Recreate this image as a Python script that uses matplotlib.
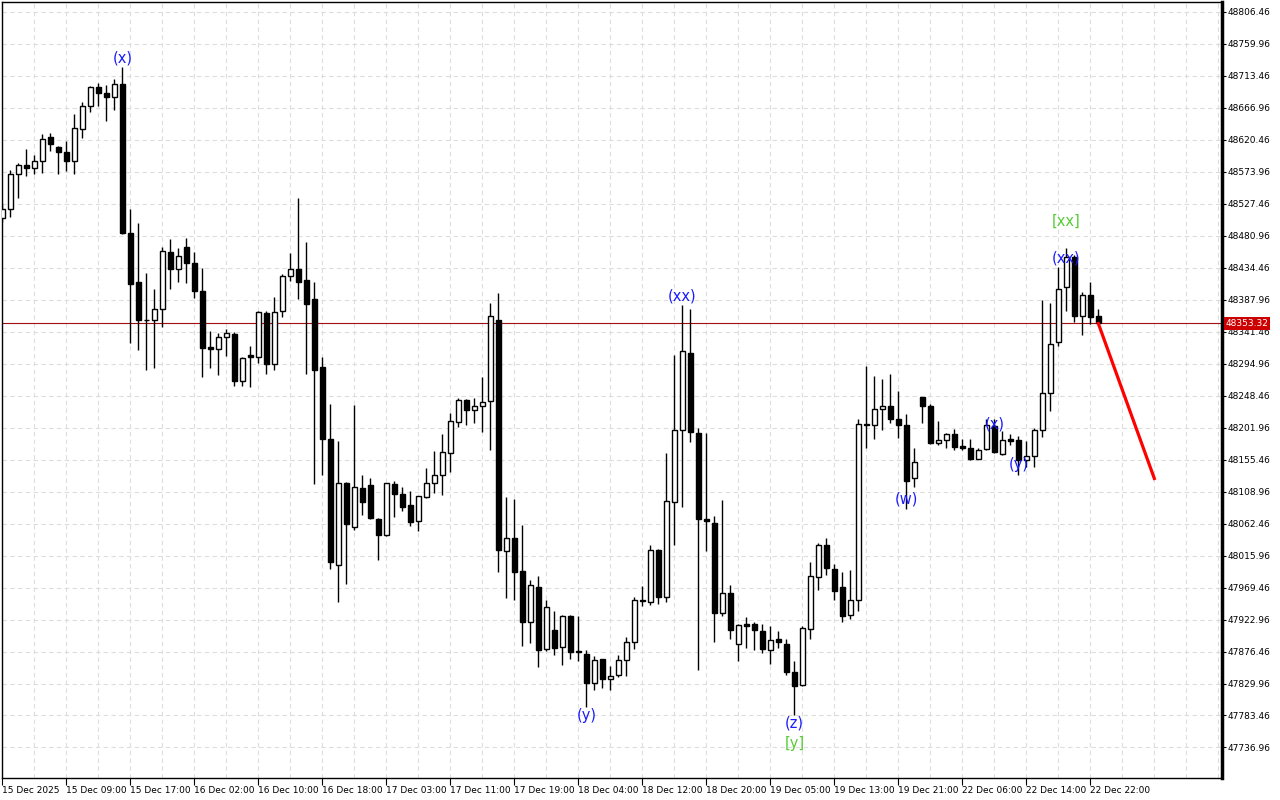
import numpy as np
import matplotlib.pyplot as plt
from matplotlib.transforms import ScaledTranslation, blended_transform_factory

# hourly candles (bar 0 = 15 Dec 2025 first hour)
opens = [48506, 48519, 48570, 48583, 48580, 48590, 48624, 48610, 48602, 48589,
         48636, 48669, 48697, 48689, 48682, 48702, 48485, 48413, 48359, 48358,
         48374, 48457, 48433, 48465, 48441, 48400, 48319, 48316, 48333, 48338,
         48269, 48307, 48305, 48368, 48295, 48372, 48422, 48433, 48416, 48389,
         48290, 48185, 48002, 48122, 48058, 48114, 48118, 48069, 48046, 48120,
         48106, 48089, 48066, 48101, 48122, 48133, 48165, 48210, 48242, 48228,
         48234, 48240, 48358, 48022, 48042, 47993, 47920, 47970, 47880, 47908,
         47883, 47928, 47877, 47873, 47831, 47865, 47837, 47842, 47864, 47891,
         47952, 47948, 48024, 47955, 48094, 48198, 48310, 48194, 48069, 48063,
         47932, 47961, 47888, 47916, 47917, 47907, 47878, 47894, 47888, 47847,
         47828, 47909, 47985, 48031, 47997, 47970, 47929, 47951, 48207, 48205,
         48229, 48234, 48215, 48205, 48128, 48246, 48234, 48180, 48184, 48192,
         48175, 48173, 48157, 48171, 48204, 48164, 48185, 48184, 48155, 48161,
         48199, 48252, 48326, 48406, 48450, 48364, 48394, 48364]
highs = [48528, 48576, 48587, 48607, 48598, 48629, 48630, 48611, 48619, 48658,
         48675, 48698, 48703, 48700, 48709, 48726, 48519, 48499, 48426, 48404,
         48464, 48476, 48463, 48477, 48457, 48434, 48342, 48340, 48345, 48341,
         48305, 48321, 48371, 48371, 48392, 48425, 48456, 48535, 48472, 48414,
         48304, 48236, 48183, 48123, 48235, 48133, 48128, 48070, 48122, 48124,
         48116, 48110, 48103, 48143, 48168, 48193, 48223, 48245, 48243, 48245,
         48275, 48383, 48397, 48101, 48098, 48060, 47980, 47986, 47951, 47936,
         47929, 47929, 47928, 47878, 47870, 47866, 47856, 47872, 47898, 47955,
         47971, 48031, 48025, 48165, 48307, 48380, 48375, 48201, 48194, 48073,
         48096, 47973, 47916, 47926, 47919, 47917, 47913, 47907, 47894, 47862,
         47913, 48006, 48034, 48041, 48003, 47992, 47995, 48215, 48291, 48277,
         48273, 48280, 48255, 48222, 48173, 48247, 48236, 48212, 48194, 48200,
         48186, 48186, 48173, 48215, 48215, 48197, 48192, 48190, 48182, 48201,
         48388, 48383, 48435, 48463, 48453, 48399, 48413, 48375]
lows = [48501, 48508, 48535, 48567, 48571, 48572, 48604, 48570, 48575, 48570,
        48623, 48661, 48669, 48648, 48663, 48484, 48325, 48315, 48286, 48288,
        48348, 48404, 48413, 48412, 48391, 48276, 48288, 48279, 48306, 48263,
        48263, 48261, 48296, 48280, 48285, 48363, 48415, 48389, 48280, 48120,
        48133, 47997, 47949, 47975, 48053, 48075, 48069, 48010, 48045, 48072,
        48081, 48059, 48052, 48099, 48107, 48104, 48138, 48203, 48206, 48209,
        48195, 48170, 47992, 47954, 47952, 47885, 47889, 47854, 47877, 47872,
        47857, 47866, 47863, 47796, 47820, 47824, 47820, 47840, 47841, 47880,
        47942, 47944, 47945, 47948, 48031, 48086, 48181, 47849, 48022, 47891,
        47928, 47894, 47862, 47881, 47878, 47875, 47859, 47881, 47843, 47784,
        47827, 47895, 47966, 47987, 47951, 47920, 47923, 47936, 48173, 48185,
        48199, 48209, 48187, 48084, 48115, 48208, 48178, 48177, 48173, 48170,
        48170, 48155, 48156, 48170, 48165, 48162, 48177, 48133, 48145, 48144,
        48189, 48226, 48320, 48372, 48356, 48336, 48353, 48352]
closes = [48519, 48570, 48583, 48580, 48590, 48622, 48614, 48602, 48589, 48638,
          48669, 48697, 48689, 48682, 48702, 48485, 48410, 48359, 48358, 48374,
          48458, 48433, 48451, 48441, 48400, 48317, 48316, 48333, 48339, 48269,
          48303, 48304, 48370, 48295, 48370, 48422, 48432, 48414, 48382, 48286,
          48186, 48006, 48122, 48062, 48115, 48094, 48071, 48046, 48121, 48106,
          48087, 48065, 48102, 48121, 48133, 48166, 48211, 48242, 48227, 48233,
          48239, 48364, 48024, 48042, 47992, 47920, 47973, 47878, 47941, 47882,
          47928, 47876, 47876, 47831, 47864, 47837, 47841, 47864, 47890, 47952,
          47950, 48024, 47955, 48095, 48199, 48313, 48195, 48069, 48066, 47933,
          47961, 47908, 47915, 47914, 47908, 47880, 47893, 47890, 47847, 47827,
          47910, 47986, 48031, 47998, 47965, 47928, 47951, 48207, 48205, 48229,
          48233, 48215, 48205, 48125, 48152, 48234, 48179, 48184, 48192, 48174,
          48172, 48157, 48170, 48205, 48167, 48184, 48183, 48155, 48161, 48198,
          48252, 48323, 48404, 48450, 48364, 48394, 48362, 48353.32]

last_price = 48353.32

x_tick_bars = [0, 8, 16, 24, 32, 40, 48, 56, 64, 72, 80, 88, 96, 104, 112, 120, 128, 136]
x_tick_labels = ['15 Dec 2025', '15 Dec 09:00', '15 Dec 17:00', '16 Dec 02:00', '16 Dec 10:00',
                 '16 Dec 18:00', '17 Dec 03:00', '17 Dec 11:00', '17 Dec 19:00', '18 Dec 04:00',
                 '18 Dec 12:00', '18 Dec 20:00', '19 Dec 05:00', '19 Dec 13:00', '19 Dec 21:00',
                 '22 Dec 06:00', '22 Dec 14:00', '22 Dec 22:00']
y_ticks = [48806.46, 48759.96, 48713.46, 48666.96, 48620.46, 48573.96, 48527.46, 48480.96,
           48434.46, 48387.96, 48341.46, 48294.96, 48248.46, 48201.96, 48155.46, 48108.96,
           48062.46, 48015.96, 47969.46, 47922.96, 47876.46, 47829.96, 47783.46, 47736.96]

# wave labels (text, bar, price)
blue_labels = [('(x)', 15, 48739), ('(y)', 73, 47784), ('(xx)', 85, 48393),
               ('(z)', 99, 47772), ('(w)', 113, 48098), ('(x)', 124, 48207),
               ('(y)', 127, 48149), ('(xx)', 133, 48448)]
green_labels = [('[y]', 99, 47743), ('[xx]', 133, 48502)]

# forecast line
forecast_bars = [137, 144]
forecast_prices = [48353.32, 48128]

o = np.array(opens, dtype=float)
h = np.array(highs, dtype=float)
l = np.array(lows, dtype=float)
c = np.array(closes, dtype=float)
idx = np.arange(len(o))
up = c >= o

fig = plt.figure(figsize=(12.8, 8), dpi=100)
ax = fig.add_axes([2 / 1280, 22 / 800, 1220 / 1280, 776 / 800])

ax.vlines(idx, l, h, color='black', linewidth=1, zorder=2)
bot = np.minimum(o, c)
hgt = np.abs(c - o)
ax.bar(idx[up], hgt[up], bottom=bot[up], width=0.55, facecolor='white',
       edgecolor='black', linewidth=1, zorder=3)
ax.bar(idx[~up], hgt[~up], bottom=bot[~up], width=0.55, facecolor='black',
       edgecolor='black', linewidth=1, zorder=3)

ax.axhline(last_price, color='#a01010', linewidth=0.8, zorder=1)
ax.plot(forecast_bars, forecast_prices, color='#ff0000', linewidth=2.3, zorder=4)

for txt, b, p in blue_labels:
    ax.text(b, p, txt, color='#1a1aff', fontsize=10.5, ha='center', va='center', zorder=5)
for txt, b, p in green_labels:
    ax.text(b, p, txt, color='#55cc33', fontsize=10.5, ha='center', va='center', zorder=5)

ax.set_xlim(-0.04, 152.46)
ax.set_ylim(47692.6, 48820.6)

# grid
ax.set_xticks(x_tick_bars)
ax.set_xticks(np.arange(0, 153, 4), minor=True)
ax.set_xticklabels(x_tick_labels, fontsize=6.5, ha='left')
for lab in ax.get_xticklabels():
    lab.set_transform(lab.get_transform() + ScaledTranslation(2 / 72, 0, fig.dpi_scale_trans))
ax.set_yticks(y_ticks)
ax.set_yticklabels(['%.2f' % v for v in y_ticks], fontsize=6.5)
ax.yaxis.tick_right()
ax.tick_params(axis='x', which='major', length=5, pad=1, width=0.8)
ax.tick_params(axis='x', which='minor', length=0)
ax.tick_params(axis='y', length=3, pad=1, width=0.8)
ax.grid(which='both', axis='x', color='#dddddd', linestyle=(0, (4, 3)), linewidth=0.8)
ax.grid(which='major', axis='y', color='#dddddd', linestyle=(0, (4, 3)), linewidth=0.8)
ax.set_axisbelow(True)

for s in ['left', 'top', 'bottom']:
    ax.spines[s].set_linewidth(1)
ax.spines['right'].set_linewidth(2.5)

tr = blended_transform_factory(ax.transAxes, ax.transData)
ax.text(1.003, last_price, '%.2f' % last_price, transform=tr, color='white', fontsize=6.5,
        ha='left', va='center', clip_on=False, zorder=6,
        bbox=dict(boxstyle='square,pad=0.2', facecolor='#cc0000', edgecolor='none'))

fig.savefig('out.png', dpi=100)
